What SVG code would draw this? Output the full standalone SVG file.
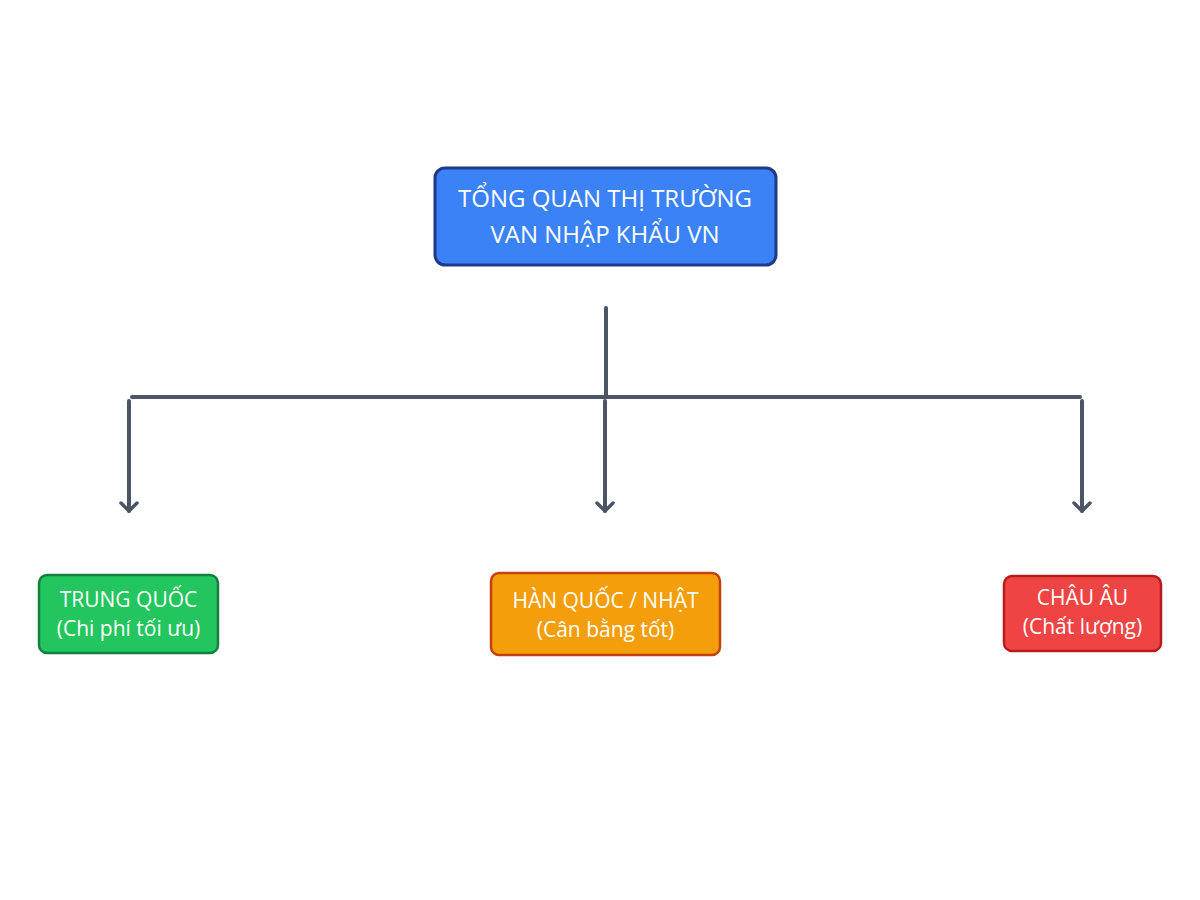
<svg xmlns="http://www.w3.org/2000/svg" width="1200" height="900" viewBox="0 0 1200 900">
<style>
text{font-family:"Open Sans","Noto Sans","Liberation Sans",sans-serif;fill:#fff;text-anchor:middle}
.t{font-size:24px}.s{font-size:21px}
.c{stroke:#4b5563;stroke-width:4;fill:none;stroke-linecap:round}
</style>
<defs><marker id="a" viewBox="0 0 20 20" refX="18" refY="10" markerWidth="20" markerHeight="20" markerUnits="userSpaceOnUse" orient="auto"><path d="M10 2 L18 10 L10 18" fill="none" stroke="#4b5563" stroke-width="3.5" stroke-linecap="round" stroke-linejoin="round"/></marker></defs>
<rect width="1200" height="900" fill="#fff"/>
<g id="connectors">
<path class="c" d="M606 308 V397"/>
<path class="c" d="M132 397 H1080"/>
<path class="c" d="M129 401 V511" marker-end="url(#a)"/>
<path class="c" d="M605 401 V511" marker-end="url(#a)"/>
<path class="c" d="M1082 401 V511" marker-end="url(#a)"/>
</g>
<g id="root"><rect x="435" y="168" width="341" height="97" rx="10" fill="#3b82f6" stroke="#1e3a8a" stroke-width="3"/>
<text class="t" x="605" y="207">TỔNG QUAN THỊ TRƯỜNG</text><text class="t" x="605" y="243">VAN NHẬP KHẨU VN</text></g>
<g id="china"><rect x="39" y="575" width="179" height="78" rx="8" fill="#22c55e" stroke="#15803d" stroke-width="2.5"/>
<text class="s" x="128.5" y="607">TRUNG QUỐC</text><text class="s" x="128.5" y="636">(Chi phí tối ưu)</text></g>
<g id="korea"><rect x="491" y="573" width="229" height="82" rx="8" fill="#f59e0b" stroke="#c2410c" stroke-width="2.5"/>
<text class="s" x="605.5" y="608">HÀN QUỐC / NHẬT</text><text class="s" x="605.5" y="637">(Cân bằng tốt)</text></g>
<g id="europe"><rect x="1004" y="576" width="157" height="75" rx="8" fill="#ef4444" stroke="#b91c1c" stroke-width="2.5"/>
<text class="s" x="1082.5" y="605">CHÂU ÂU</text><text class="s" x="1082.5" y="634">(Chất lượng)</text></g>
</svg>
